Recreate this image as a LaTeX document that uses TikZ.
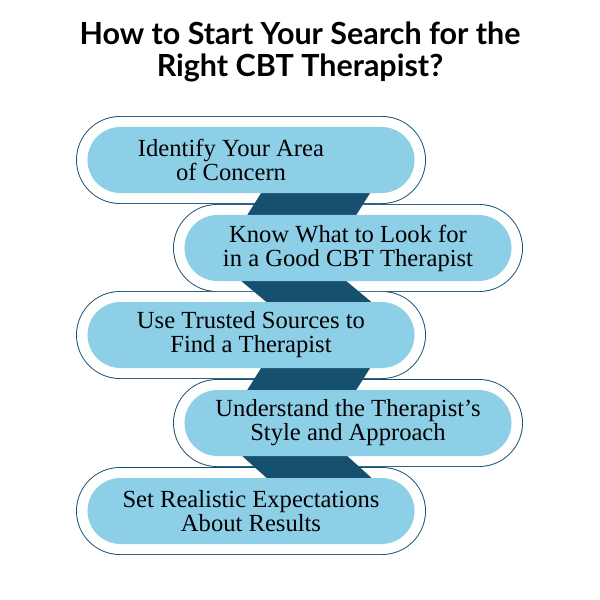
\documentclass[tikz,border=0pt]{standalone}
\usepackage{fontspec}
\setmainfont{Liberation Serif}
\newfontfamily\titlefont{Lato}
\definecolor{pillblue}{HTML}{8ECFE8}
\definecolor{deepblue}{HTML}{15506F}
\begin{document}
\begin{tikzpicture}[x=0.03cm, y=-0.03cm,
    outer/.style={minimum width=10.44cm, minimum height=2.58cm, rounded corners=1.29cm, inner sep=0pt},
    pill/.style={fill=pillblue, minimum width=9.81cm, minimum height=1.98cm, rounded corners=0.99cm, align=center, font=\fontsize{21}{20.5}\selectfont, text=black, inner sep=0pt}]
    \useasboundingbox (0,0) rectangle (600,600);
    \node[font=\titlefont\bfseries\fontsize{26}{27}\selectfont, align=center] (title) at (300,52) {How to Start Your Search for the\\Right CBT Therapist?};

    % outline of all steps
    \foreach \x/\y in {251/160, 348/248, 251/335, 348/423, 251/511}
        \node[outer, draw=deepblue, line width=1.6pt] at (\x,\y) {};
    \foreach \x/\y in {251/160, 348/248, 251/335, 348/423, 251/511}
        \node[outer, fill=white] at (\x,\y) {};

    % joints
    \fill[deepblue] (263,190) -- (372,190) -- (355,217) -- (246,217) -- cycle;
    \fill[deepblue] (240,280) -- (345,280) -- (375,305) -- (270,305) -- cycle;
    \fill[deepblue] (263,365) -- (372,365) -- (355,392) -- (246,392) -- cycle;
    \fill[deepblue] (240,454) -- (345,454) -- (375,481) -- (270,481) -- cycle;

    \node[pill] (s1) at (251,160) {\hspace*{-1.2cm}Identify Your Area\\\hspace*{-1.2cm}of Concern};
    \node[pill] (s2) at (348,248) {Know What to Look for\\in a Good CBT Therapist};
    \node[pill] (s3) at (251,335) {Use Trusted Sources to\\Find a Therapist};
    \node[pill] (s4) at (348,423) {Understand the Therapist’s\\Style and Approach};
    \node[pill] (s5) at (251,511) {Set Realistic Expectations\\About Results};
\end{tikzpicture}
\end{document}
